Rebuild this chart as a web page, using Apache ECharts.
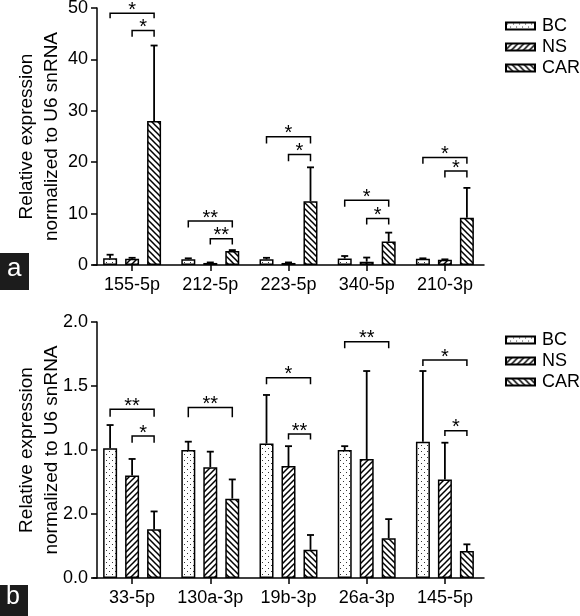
<!DOCTYPE html>
<html><head><meta charset="utf-8">
<script src="https://cdn.jsdelivr.net/npm/echarts@6/dist/echarts.min.js"></script>
<style>html,body{margin:0;padding:0;background:#fff}#c{width:580px;height:616px}</style>
</head><body><div id="c"></div>
<script>
// ---- Panel a data ----
const catsA = ['155-5p','212-5p','223-5p','340-5p','210-3p'];
const bcA = [1.3, 1.1, 1.1, 1.25, 1.2];
const bcErrA = [2.0, 1.3, 1.4, 1.75, 1.3];
const nsA = [1.2, 0.4, 0.4, 0.65, 1.0];
const nsErrA = [1.4, 0.5, 0.5, 1.45, 1.1];
const carA = [28.0, 2.7, 12.4, 4.55, 9.2];
const carErrA = [42.7, 2.9, 19.0, 6.3, 15.0];
const yTicksA = ['0','10','20','30','40','50'];
// brackets: [category, fromGroup, toGroup, level, dropLevel]
const bracketsA = [[0,0,2,49.0,48.0],[0,1,2,45.6,44.4],[1,0,2,8.55,7.3],[1,1,2,5.1,4.0],
  [2,0,2,24.95,23.65],[2,1,2,21.5,20.2],[3,0,2,12.6,11.35],[3,1,2,9.07,7.9],[4,0,2,20.9,19.7],[4,1,2,18.27,17.0]];
const bracketLabelsA = ['*','*','**','**','*','*','*','*','*','*'];

// ---- Panel b data ----
const catsB = ['33-5p','130a-3p','19b-3p','26a-3p','145-5p'];
const bcB = [1.013, 1.0, 1.05, 1.0, 1.065];
const bcErrB = [1.195, 1.065, 1.43, 1.03, 1.617];
const nsB = [0.80, 0.865, 0.875, 0.93, 0.77];
const nsErrB = [0.93, 0.987, 1.03, 1.617, 1.057];
const carB = [0.38, 0.62, 0.22, 0.31, 0.21];
const carErrB = [0.52, 0.77, 0.336, 0.46, 0.263];
const yTicksB = ['0.0','2.0','1.0','1.5','2.0'];
const bracketsB = [[0,0,2,1.318,1.26],[0,1,2,1.109,1.057],[1,0,2,1.333,1.255],[2,0,2,1.565,1.513],
  [2,1,2,1.125,1.083],[3,0,2,1.846,1.794],[4,0,2,1.703,1.656],[4,1,2,1.15,1.109]];
const bracketLabelsB = ['**','*','**','*','**','**','*','*'];

const groups = ['BC','NS','CAR'];
const FONT = 'Liberation Sans, Arial, Helvetica, sans-serif';
const BAR_W = 14, BAR_STEP = 22;

function pattern(kind){
  const c = document.createElement('canvas');
  c.width = 6; c.height = 6;
  const g = c.getContext('2d');
  g.fillStyle = '#fff'; g.fillRect(0,0,6,6);
  if (kind === 'dots') {
    g.fillStyle = '#333';
    g.fillRect(1,1,1,1); g.fillRect(4,4,1,1);
  } else {
    g.strokeStyle = '#000'; g.lineWidth = 1.5;
    g.beginPath();
    if (kind === 'fwd') { // "/"
      g.moveTo(-1,7); g.lineTo(7,-1);
      g.moveTo(-1,1); g.lineTo(1,-1);
      g.moveTo(5,7); g.lineTo(7,5);
    } else { // "\"
      g.moveTo(-1,-1); g.lineTo(7,7);
      g.moveTo(5,-1); g.lineTo(7,1);
      g.moveTo(-1,5); g.lineTo(1,7);
    }
    g.stroke();
  }
  return {image: c, repeat: 'repeat'};
}
const fills = [pattern('dots'), pattern('fwd'), pattern('back')];

function barSeries(idx, vals, gi){
  return {
    type:'bar', name: groups[gi], xAxisIndex: idx, yAxisIndex: idx, data: vals,
    barWidth: BAR_W, barGap: '57%',
    itemStyle: {color: fills[gi], borderColor:'#000', borderWidth:1.5},
    emphasis: {disabled: true}, animation:false
  };
}
function errSeries(idx, vals, errs){
  const data = [];
  for (let gi=0; gi<3; gi++) for (let i=0;i<vals[gi].length;i++) data.push([i, gi, vals[gi][i], errs[gi][i]]);
  return {
    type:'custom', xAxisIndex: idx, yAxisIndex: idx, data, z: 5, animation:false, silent:true,
    encode:{x:0, y:[2,3]},
    renderItem(params, api){
      const cat = api.value(0), gi = api.value(1);
      const p0 = api.coord([cat, api.value(2)]);
      const p1 = api.coord([cat, api.value(3)]);
      const x = p0[0] + (gi-1)*BAR_STEP;
      const st = {stroke:'#000', lineWidth:1.8};
      return {type:'group', children:[
        {type:'line', shape:{x1:x, y1:p0[1], x2:x, y2:p1[1]}, style:st},
        {type:'line', shape:{x1:x-3.5, y1:p1[1], x2:x+3.5, y2:p1[1]}, style:st}
      ]};
    }
  };
}
function bracketSeries(idx, br, labels){
  return {
    type:'custom', xAxisIndex: idx, yAxisIndex: idx, data: br, z: 6, animation:false, silent:true,
    encode:{x:0, y:3},
    renderItem(params, api){
      const cat = api.value(0);
      const pa = api.coord([cat, api.value(3)]);
      const pd = api.coord([cat, api.value(4)]);
      const xa = pa[0] + (api.value(1)-1)*BAR_STEP;
      const xb = pa[0] + (api.value(2)-1)*BAR_STEP;
      const st = {stroke:'#000', lineWidth:1.5, fill:null};
      return {type:'group', children:[
        {type:'polyline', shape:{points:[[xa,pd[1]],[xa,pa[1]],[xb,pa[1]],[xb,pd[1]]]}, style:st},
        {type:'text', x:(xa+xb)/2, y:pa[1]-3, style:{text: labels[params.dataIndex], fill:'#000',
          font:'20px ' + FONT, align:'center', verticalAlign:'middle'}}
      ]};
    }
  };
}
function yAxis(idx, max, interval, ticks){
  return {
    type:'value', gridIndex: idx, min:0, max, interval, offset:-4,
    name:'Relative expression\nnormalized to U6 snRNA', nameLocation:'middle', nameGap:33, nameRotate:90,
    nameMoveOverlap:false,
    nameTextStyle:{fontSize:19, lineHeight:25, color:'#000', fontFamily:FONT},
    axisLine:{show:true, lineStyle:{color:'#000', width:1.5}},
    axisTick:{show:true, length:6, lineStyle:{color:'#000', width:1.5}},
    splitLine:{show:false},
    axisLabel:{fontSize:18, color:'#000', fontFamily:FONT, margin:9,
      formatter:(v)=> ticks[Math.round(v/interval)]}
  };
}
function xAxis(idx, cats){
  return {
    type:'category', gridIndex: idx, data: cats,
    axisLine:{show:true, lineStyle:{color:'#000', width:1.5}},
    axisTick:{show:true, alignWithLabel:true, length:6, lineStyle:{color:'#000', width:1.5}},
    axisLabel:{fontSize:18, color:'#000', fontFamily:FONT, margin:11, interval:0}
  };
}
function legend(top){
  return {
    orient:'vertical', left:500, top, data: groups, itemWidth:29, itemHeight:7, itemGap:1,
    icon:'rect', selectedMode:false,
    textStyle:{fontSize:18, color:'#000', fontFamily:FONT, lineHeight:20, padding:[0,0,0,2]}
  };
}

const chart = echarts.init(document.getElementById('c'), null, {renderer:'canvas'});
chart.setOption({
  animation:false,
  grid:[{left:93, top:8, width:391, height:257, containLabel:false, outerBoundsMode:'none'},
        {left:93, top:322, width:391, height:256, containLabel:false, outerBoundsMode:'none'}],
  xAxis:[xAxis(0, catsA), xAxis(1, catsB)],
  yAxis:[yAxis(0, 50, 10, yTicksA), yAxis(1, 2, 0.5, yTicksB)],
  legend:[legend(11), legend(325)],
  series:[
    barSeries(0, bcA, 0), barSeries(0, nsA, 1), barSeries(0, carA, 2),
    barSeries(1, bcB, 0), barSeries(1, nsB, 1), barSeries(1, carB, 2),
    errSeries(0, [bcA,nsA,carA], [bcErrA,nsErrA,carErrA]),
    errSeries(1, [bcB,nsB,carB], [bcErrB,nsErrB,carErrB]),
    bracketSeries(0, bracketsA, bracketLabelsA),
    bracketSeries(1, bracketsB, bracketLabelsB)
  ],
  graphic:[
    {type:'rect', left:0, top:253, shape:{width:29, height:37}, style:{fill:'#1c1c1c'}},
    {type:'text', left:7, top:256, style:{text:'a', fill:'#fff', font:'26px ' + FONT}},
    {type:'rect', left:0, top:585, shape:{width:28, height:31}, style:{fill:'#1c1c1c'}},
    {type:'text', left:6, top:585, style:{text:'b', fill:'#fff', font:'25px ' + FONT}}
  ]
});
</script></body></html>
